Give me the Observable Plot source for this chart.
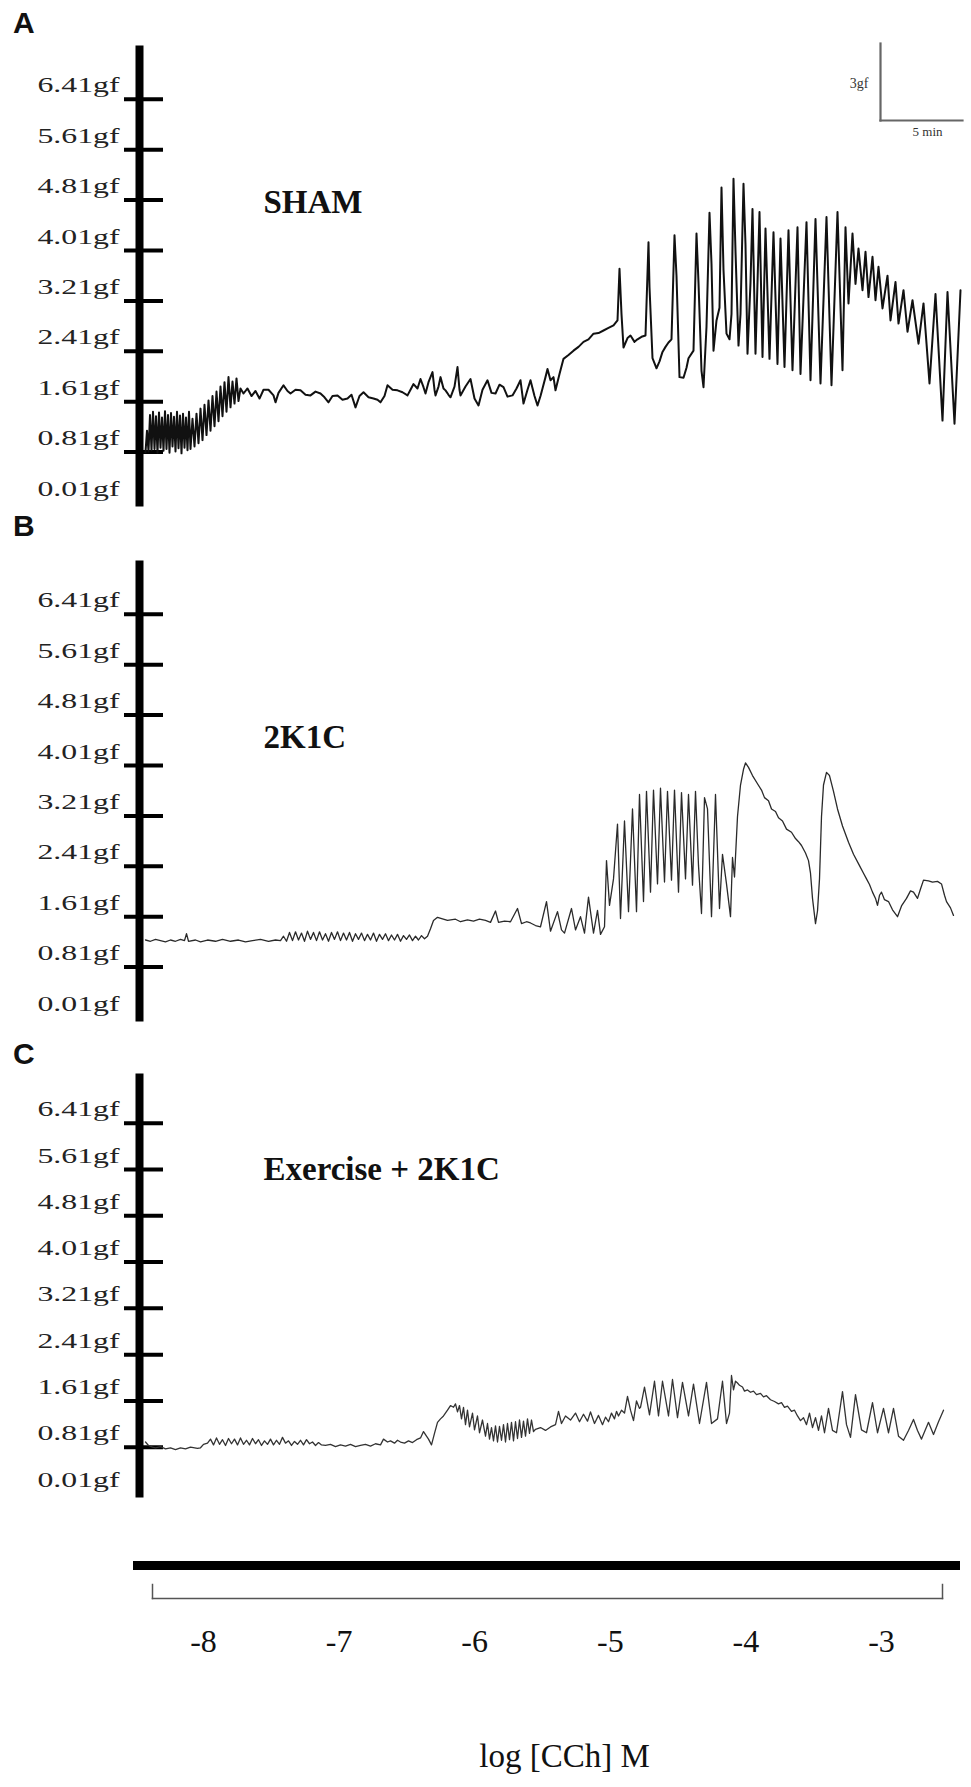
<!DOCTYPE html>
<html><head><meta charset="utf-8">
<script src="https://cdn.jsdelivr.net/npm/d3@7"></script>
<script src="https://cdn.jsdelivr.net/npm/@observablehq/plot@0.6"></script>
<style>
html, body { margin:0; padding:0; background:#fff; }
#fig { position:relative; width:971px; height:1787px; overflow:hidden; }
.letter { position:absolute; left:13px; font-family:"Liberation Sans", Arial, sans-serif; font-weight:bold; font-size:30px; line-height:30px; color:#111; }
</style></head>
<body><div id="fig"></div>
<script>
// ---- data (time in s, force in gf) ----
const panelLetters = ["A", "B", "C"];
const panelTitles = ["SHAM", "2K1C", "Exercise + 2K1C"];
const yTickValues = [0.01, 0.81, 1.61, 2.41, 3.21, 4.01, 4.81, 5.61, 6.41];
const yTickMarks = [0.81, 1.61, 2.41, 3.21, 4.01, 4.81, 5.61, 6.41];
const logConc = [-8, -7, -6, -5, -4, -3];
const xTitle = "log [CCh] M";
const scaleBarForce = "3gf";
const scaleBarTime = "5 min";

const traceA = [
[0,0.81],[6,1.15],[12,0.82],[18,1.40],[24,0.84],[30,1.45],[36,0.86],[42,1.38],[48,0.80],[54,1.44],
[60,0.88],[66,1.36],[72,0.83],[78,1.46],[84,0.86],[90,1.40],[96,0.80],[102,1.43],[108,0.90],[114,1.37],
[120,0.82],[126,1.45],[132,0.87],[138,1.39],[144,0.79],[150,1.42],[156,0.88],[162,1.36],[168,0.84],[174,1.45],
[180,0.86],
[188,1.34],[196,0.90],[204,1.42],[212,0.95],[220,1.50],[228,1.00],[236,1.56],[244,1.08],[252,1.63],[260,1.15],
[268,1.70],[276,1.22],[284,1.77],[292,1.30],[300,1.85],[308,1.38],[316,1.92],[324,1.45],[332,2.00],[340,1.52],
[348,1.93],[356,1.58],[364,1.98],[372,1.62],[380,1.82],
[392,1.74],[408,1.82],[424,1.70],[440,1.78],[456,1.66],[472,1.80],
[492,1.80],[512,1.71],[520,1.60],[532,1.75],[552,1.87],[568,1.78],[580,1.74],[600,1.80],[620,1.79],[640,1.72],
[660,1.71],[680,1.77],[700,1.74],[716,1.68],[732,1.60],[748,1.70],[768,1.71],[788,1.64],[808,1.66],[824,1.72],
[840,1.52],[856,1.70],[872,1.76],[892,1.68],[912,1.66],[928,1.64],[940,1.60],[956,1.70],[968,1.87],[988,1.80],
[1008,1.79],[1028,1.76],[1048,1.71],[1060,1.80],[1072,1.89],[1088,1.82],[1100,1.97],[1112,1.84],[1120,1.74],[1132,1.92],
[1148,2.08],[1156,1.80],[1160,1.71],[1172,1.85],[1180,2.00],[1192,1.82],[1200,1.79],[1212,1.72],[1220,1.68],[1236,1.85],
[1248,2.16],[1256,1.80],[1260,1.71],[1280,1.85],[1300,1.97],[1316,1.66],[1332,1.55],[1348,1.80],[1368,1.95],[1384,1.75],
[1400,1.74],[1416,1.88],[1432,1.84],[1448,1.69],[1468,1.71],[1484,1.82],[1500,1.95],[1512,1.58],[1528,1.80],[1540,1.95],
[1556,1.70],[1568,1.55],[1580,1.70],[1588,1.82],[1600,2.00],[1608,2.13],[1620,1.95],[1632,2.00],[1640,1.79],[1656,2.05],
[1672,2.29],[1692,2.35],[1712,2.42],[1732,2.48],[1752,2.56],[1772,2.60],[1792,2.69],[1812,2.70],[1832,2.74],[1852,2.78],
[1872,2.82],[1888,2.90],[1896,3.72],[1904,3.00],[1912,2.47],[1928,2.62],[1940,2.66],[1956,2.56],[1968,2.60],[1984,2.64],
[2000,2.66],[2012,4.14],[2016,3.43],[2028,2.30],[2044,2.14],[2056,2.25],[2068,2.40],[2080,2.48],[2092,2.55],[2104,2.60],
[2116,4.25],[2124,3.61],[2136,2.00],[2152,1.99],[2164,2.15],[2172,2.30],[2192,2.42],[2204,4.28],[2212,3.50],[2224,2.10],
[2232,1.84],[2244,2.80],[2256,4.61],[2264,3.80],[2272,2.42],[2284,2.90],[2296,3.10],[2304,5.01],[2312,3.70],[2324,2.69],
[2336,2.60],[2344,3.00],[2352,5.15],[2360,4.00],[2372,2.50],[2380,3.00],[2392,5.07],[2400,4.10],[2408,2.37],[2420,3.50],
[2428,4.67],[2440,2.37],[2448,3.50],[2456,4.62],[2468,2.32],[2480,4.36],[2496,2.29],[2512,4.30],[2528,2.21],[2540,4.20],
[2556,2.16],[2572,4.33],[2588,2.11],[2608,4.38],[2620,2.05],[2644,4.46],[2660,1.95],[2680,4.51],[2700,1.90],[2724,4.54],
[2744,1.87],[2768,4.62],[2788,2.11],[2800,4.38],[2812,3.17],[2828,4.28],[2840,3.48],[2852,4.04],[2868,3.38],[2880,3.99],
[2892,3.27],[2908,3.91],[2920,3.22],[2932,3.75],[2948,3.09],[2968,3.61],[2980,2.90],[3000,3.51],[3012,2.85],[3032,3.38],
[3048,2.72],[3068,3.22],[3092,2.53],[3112,3.17],[3136,1.90],[3160,3.32],[3188,1.31],[3208,3.35],[3236,1.26],[3260,3.38]
];

const traceB = [
[0,1.24],[20,1.22],[40,1.25],[60,1.23],[80,1.21],[100,1.24],[120,1.22],[140,1.25],[156,1.23],[164,1.34],
[172,1.22],[200,1.24],[220,1.21],[248,1.24],[280,1.22],[308,1.25],[340,1.22],[372,1.24],[400,1.21],[428,1.23],
[460,1.25],[492,1.22],[520,1.24],[540,1.23],
[552,1.30],[564,1.22],[576,1.36],[588,1.23],[600,1.37],[612,1.24],[624,1.35],[636,1.22],[648,1.38],[660,1.25],
[672,1.36],[684,1.23],[696,1.37],[708,1.24],[720,1.34],[732,1.22],[744,1.36],[756,1.25],[768,1.37],[780,1.23],
[792,1.35],[804,1.24],[816,1.36],[828,1.22],[840,1.34],[852,1.25],[864,1.35],[876,1.23],[888,1.33],[900,1.24],
[912,1.35],[924,1.22],[936,1.33],[948,1.25],[960,1.34],[972,1.23],[984,1.32],[996,1.24],[1008,1.33],[1020,1.22],
[1032,1.31],[1044,1.25],[1056,1.32],[1068,1.23],[1080,1.30],[1092,1.24],[1104,1.31],[1116,1.26],[1128,1.30],[1140,1.42],
[1152,1.55],[1168,1.60],[1208,1.55],[1240,1.57],[1260,1.53],[1288,1.56],[1312,1.54],[1336,1.57],[1360,1.55],[1380,1.52],
[1400,1.70],[1412,1.52],[1436,1.54],[1460,1.53],[1488,1.74],[1504,1.50],[1524,1.53],[1540,1.51],[1560,1.47],[1580,1.45],
[1604,1.85],[1620,1.38],[1648,1.69],[1664,1.40],[1676,1.35],[1704,1.74],[1720,1.40],[1740,1.61],[1756,1.35],[1772,1.92],
[1792,1.35],[1808,1.71],[1820,1.33],[1836,1.45],[1844,2.50],[1856,1.79],[1872,2.21],[1888,3.08],[1900,1.58],[1916,3.13],
[1932,1.69],[1948,3.32],[1964,1.69],[1976,3.55],[1992,1.85],[2004,3.60],[2020,2.00],[2032,3.62],[2048,2.13],[2060,3.65],
[2076,2.16],[2088,3.60],[2104,2.19],[2116,3.62],[2132,2.00],[2144,3.58],[2160,2.21],[2172,3.55],[2188,2.11],[2200,3.60],
[2212,2.42],[2224,1.66],[2236,3.50],[2248,3.32],[2264,1.61],[2280,3.55],[2296,1.74],[2308,2.60],[2324,2.13],[2340,1.61],
[2348,2.55],[2356,2.24],[2368,3.20],[2380,3.70],[2392,3.95],[2400,4.05],[2412,3.98],[2428,3.85],[2448,3.72],[2464,3.62],
[2476,3.50],[2492,3.45],[2504,3.32],[2520,3.28],[2532,3.18],[2548,3.13],[2564,3.00],[2584,2.95],[2600,2.85],[2612,2.80],
[2624,2.74],[2640,2.62],[2652,2.50],[2660,2.30],[2668,1.90],[2680,1.50],[2688,1.70],[2696,2.21],[2704,3.20],[2712,3.70],
[2724,3.90],[2736,3.85],[2752,3.60],[2768,3.32],[2788,3.05],[2812,2.79],[2832,2.60],[2856,2.42],[2872,2.30],[2884,2.21],
[2896,2.12],[2908,2.00],[2920,1.90],[2928,1.79],[2936,1.95],[2944,2.00],[2956,1.88],[2972,1.85],[2988,1.72],[3008,1.61],
[3024,1.78],[3044,1.90],[3060,2.02],[3072,2.00],[3088,1.90],[3100,2.05],[3112,2.19],[3132,2.18],[3148,2.16],[3168,2.17],
[3184,2.13],[3196,1.95],[3204,1.85],[3220,1.75],[3232,1.63]
];

const traceC = [
[0,0.90],[12,0.84],[28,0.81],[40,0.80],[60,0.82],[80,0.78],[100,0.80],[120,0.77],[140,0.80],[160,0.78],
[180,0.81],[208,0.79],[220,0.80],[232,0.86],[248,0.88],
[260,0.95],[272,0.85],[284,0.97],[296,0.86],[308,0.94],[320,0.84],[332,0.96],[344,0.87],[356,0.95],[368,0.85],
[380,0.97],[392,0.86],[404,0.93],[416,0.85],[428,0.96],[440,0.87],[452,0.94],[464,0.84],[476,0.92],[488,0.86],
[500,0.95],[512,0.85],[524,0.93],[536,0.86],[548,0.98],[560,0.88],[572,0.92],[584,0.84],[596,0.91],[608,0.86],
[620,0.93],[632,0.85],[644,0.94],[656,0.87],[668,0.90],[680,0.84],[692,0.89],[704,0.85],
[720,0.84],[740,0.86],[760,0.82],[780,0.85],[800,0.83],[820,0.86],[840,0.82],[860,0.84],[880,0.86],[900,0.83],
[920,0.87],[940,0.85],[952,0.95],[968,0.90],[980,0.92],[996,0.88],[1008,0.93],[1020,0.90],[1036,0.88],[1052,0.92],
[1068,0.89],[1084,0.94],[1100,0.97],[1112,1.08],[1124,1.00],[1132,0.95],[1144,0.85],[1156,1.05],[1168,1.24],[1180,1.30],
[1192,1.35],[1208,1.45],[1220,1.53],[1232,1.50],[1240,1.56],[1248,1.42],[1256,1.53],[1264,1.30],[1272,1.50],[1280,1.20],
[1288,1.45],[1296,1.16],[1308,1.40],[1316,1.11],[1328,1.35],[1336,1.06],[1348,1.28],[1360,1.00],[1368,1.22],
[1376,0.95],[1384,1.15],[1392,0.92],[1400,1.18],[1408,0.90],[1416,1.17],[1424,0.93],[1432,1.20],[1440,0.90],[1448,1.22],
[1456,0.94],[1464,1.24],[1472,0.92],[1480,1.25],[1488,0.96],[1496,1.28],[1504,0.98],[1512,1.26],[1520,1.00],[1528,1.30],
[1536,1.05],[1544,1.28],[1552,1.08],[1560,1.12],[1580,1.15],[1600,1.10],[1620,1.16],[1640,1.20],[1652,1.43],[1664,1.22],
[1680,1.35],[1700,1.28],[1720,1.40],[1736,1.25],[1752,1.38],[1768,1.26],[1780,1.42],[1796,1.22],[1812,1.36],[1828,1.20],
[1840,1.33],[1852,1.25],[1864,1.40],[1876,1.30],[1884,1.43],[1892,1.35],[1904,1.45],[1916,1.40],[1928,1.69],[1940,1.45],
[1952,1.27],[1964,1.61],[1976,1.48],[1980,1.50],[1996,1.85],[2016,1.37],[2036,1.95],[2052,1.35],[2068,1.95],[2092,1.35],
[2108,1.98],[2128,1.32],[2148,1.93],[2172,1.35],[2192,1.90],[2216,1.22],[2244,1.93],[2264,1.22],[2288,1.30],[2308,1.95],
[2324,1.22],[2336,1.40],[2344,2.05],[2352,1.80],[2360,1.95],[2368,1.92],[2376,1.88],[2388,1.85],[2396,1.78],[2408,1.80],
[2420,1.76],[2432,1.78],[2444,1.72],[2460,1.74],[2472,1.68],[2484,1.70],[2500,1.63],[2516,1.60],[2532,1.56],[2544,1.58],
[2556,1.50],[2568,1.52],[2584,1.43],[2596,1.45],[2608,1.35],[2620,1.27],[2632,1.32],[2644,1.20],[2656,1.40],[2668,1.15],
[2680,1.32],[2692,1.10],[2704,1.35],[2716,1.06],[2732,1.48],[2748,1.10],[2764,1.06],[2788,1.77],[2804,1.20],[2820,0.98],
[2840,1.72],[2864,1.11],[2884,1.06],[2908,1.58],[2928,1.06],[2952,1.48],[2972,1.06],[2992,1.48],[3012,1.00],[3032,0.93],
[3052,1.10],[3072,1.29],[3088,1.10],[3104,0.95],[3132,1.24],[3152,1.03],[3172,1.25],[3192,1.45]
];

const traces = [traceA, traceB, traceC];

// ---- layout ----
const fig = document.getElementById("fig");
const serif = "'Liberation Serif', 'Times New Roman', serif";
const panelTops = [0, 515, 1028];
const panelBottomMargins = [8, 8, 45];
const letterTops = [8, 511, 1039];
const titleDy = [163, 183, 102];
const lineStyle = [{stroke: "#111", w: 2}, {stroke: "#2a2a2a", w: 1.3}, {stroke: "#333", w: 1.3}];

function place(el, top, left) {
  el.style.position = "absolute";
  el.style.top = top + "px";
  el.style.left = (left || 0) + "px";
  fig.appendChild(el);
}

traces.forEach((trace, i) => {
  const data = trace.map(([t, f]) => ({t, f}));
  const p = Plot.plot({
    width: 971, height: 510,
    marginTop: 49, marginBottom: panelBottomMargins[i], marginLeft: 163, marginRight: 10,
    style: {fontFamily: serif, background: "transparent", overflow: "visible", color: "#000"},
    x: {domain: [0, 3260], range: [145, 960], axis: null},
    y: {domain: [0.01, 7.2], label: null},
    marks: [
      Plot.frame({anchor: "left", strokeWidth: 8, dx: -24, stroke: "#000"}),
      Plot.axisY(yTickMarks, {anchor: "left", tickSize: 39, strokeWidth: 4, stroke: "#000", fill: "none", label: null}),
      Plot.axisY(yTickValues, {anchor: "left", tickSize: 0, tickPadding: 44, fontSize: 22, dy: -14,
        fill: "#222", label: null, tickFormat: d => d.toFixed(2) + "gf"}),
      Plot.line(data, {x: "t", y: "f", stroke: lineStyle[i].stroke, strokeWidth: lineStyle[i].w, strokeLinejoin: "round"}),
      Plot.text([panelTitles[i]], {text: d => d, frameAnchor: "top-left", dx: 100, dy: titleDy[i],
        lineAnchor: "bottom", textAnchor: "start", fontSize: 33, fontWeight: "bold", fill: "#111"})
    ]
  });
  d3.select(p).selectAll('g[aria-label="y-axis tick label"] text')
    .attr("textLength", 82).attr("lengthAdjust", "spacingAndGlyphs");
  place(p, panelTops[i]);
  const L = document.createElement("div");
  L.className = "letter";
  L.textContent = panelLetters[i];
  L.style.top = letterTops[i] + "px";
  fig.appendChild(L);
});

// scale bar (panel A)
const sb = Plot.plot({
  width: 141, height: 135, marginLeft: 50, marginTop: 13, marginBottom: 45, marginRight: 9,
  style: {fontFamily: serif, background: "transparent", overflow: "visible"},
  marks: [
    Plot.frame({anchor: "left", stroke: "#666", strokeWidth: 2.2}),
    Plot.frame({anchor: "bottom", stroke: "#666", strokeWidth: 2.2}),
    Plot.text([scaleBarForce], {text: d => d, frameAnchor: "left", textAnchor: "end", dx: -12, dy: 2, fontSize: 14, fill: "#333"}),
    Plot.text([scaleBarTime], {text: d => d, frameAnchor: "bottom", dx: 6, dy: 15, fontSize: 13, fill: "#333"})
  ]
});
place(sb, 30, 830);

// bottom concentration axis
const bottom = Plot.plot({
  width: 971, height: 247,
  marginTop: 25, marginBottom: 189, marginLeft: 137, marginRight: 16,
  style: {fontFamily: serif, background: "transparent", overflow: "visible", color: "#000"},
  x: {domain: [-8, -3], range: [203, 881], label: null},
  marks: [
    Plot.frame({anchor: "top", strokeWidth: 9, stroke: "#000"}),
    Plot.frame({anchor: "left", insetLeft: 15, insetTop: 19, stroke: "#555", strokeWidth: 1.5}),
    Plot.frame({anchor: "right", insetRight: 13, insetTop: 19, stroke: "#555", strokeWidth: 1.5}),
    Plot.frame({anchor: "bottom", insetLeft: 15, insetRight: 13, stroke: "#555", strokeWidth: 1.5}),
    Plot.axisX(logConc, {anchor: "bottom", tickSize: 0, tickPadding: 31, fontSize: 32, fill: "#111",
      label: null, tickFormat: d => String(d)}),
    Plot.text([xTitle], {text: d => d, frameAnchor: "bottom", dx: 18, dy: 168, fontSize: 33, fill: "#111"})
  ]
});
place(bottom, 1540);
</script>
</body></html>
